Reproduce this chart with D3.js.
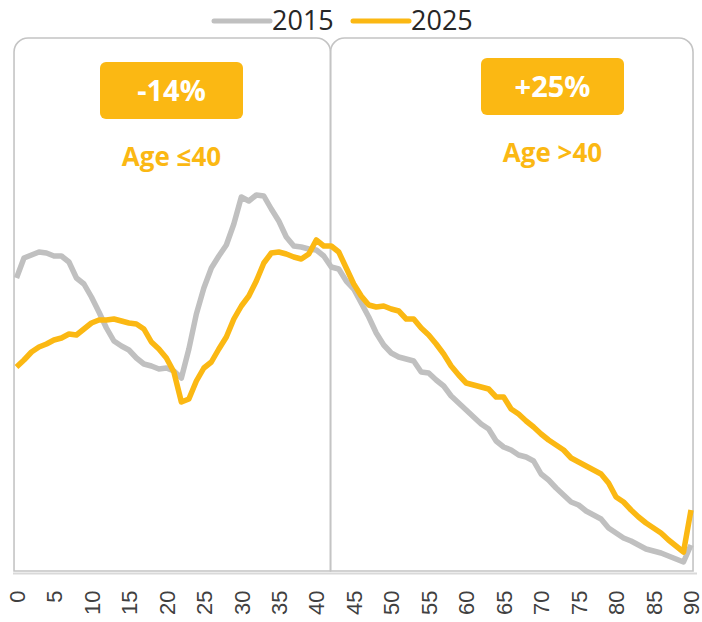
<!DOCTYPE html>
<html>
<head>
<meta charset="utf-8">
<script src="https://cdn.jsdelivr.net/npm/d3@7"></script>
<style>
  body { margin: 0; background: #fff; }
  svg { display: block; font-family: "Open Sans", sans-serif; }
  .ticktext { font-size: 22px; fill: #404040; }
  .legend-text { font-size: 27px; fill: #262626; }
  .badge-text { font-size: 29px; font-weight: 700; fill: #fff; }
  .group-label { font-size: 26px; font-weight: 700; fill: #FBB813; }
</style>
</head>
<body>
<svg width="702" height="622"></svg>
<script>
const svg = d3.select('svg');
const width  = +svg.attr('width');
const height = +svg.attr('height');

// ages 0..90
const ages = d3.range(0, 91);

// population index by single year of age
const values2015 = [
  293, 313, 316, 319, 318, 315, 315, 309, 293, 287,
  274, 259, 243, 230, 225, 221, 213, 207, 205, 202,
  203, 200, 193, 222, 257, 283, 303, 315, 326, 347,
  374, 370, 376, 375, 362, 350, 334, 325, 324, 322,
  321, 315, 304, 302, 290, 282, 268, 254, 238, 226,
  218, 214, 212, 210, 199, 198, 191, 185, 175, 168,
  161, 154, 147, 142, 130, 124, 121, 116, 114, 110,
  97, 91, 83, 76, 69, 66, 60, 56, 52, 43,
  38, 33, 30, 26, 22, 20, 18, 15, 12, 9,
  26
];
const values2025 = [
  204, 211, 219, 224, 227, 231, 233, 237, 236, 242,
  248, 251, 251, 252, 250, 248, 247, 242, 229, 222,
  213, 199, 169, 172, 190, 203, 209, 222, 234, 252,
  265, 275, 290, 308, 318, 319, 317, 314, 312, 317,
  331, 325, 325, 319, 303, 287, 275, 266, 264, 265,
  262, 260, 252, 252, 243, 236, 227, 217, 205, 196,
  188, 186, 184, 182, 174, 174, 162, 157, 150, 144,
  137, 131, 126, 121, 113, 109, 105, 101, 97, 88,
  74, 69, 61, 54, 48, 43, 38, 31, 25, 19,
  61
];

const seriesNames = ['2015', '2025'];
const seriesColors = ['#C0C0C0', '#FBB813'];
const tickAges = d3.range(0, 91, 5);

// age groups: boundaries of the two boxes (in age units) and their labels
const groupEdges = [-0.33, 41.9, 90.27];
const groupChange = ['-14%', '+25%'];
const groupLabels = ['Age \u226440', 'Age >40'];

const plotTop = 38, plotBottom = 571;

const xScale = d3.scaleLinear()
  .domain([0, 90])
  .range([16.5, 691]);

const yScale = d3.scaleLinear()
  .domain([0, 533])
  .range([plotBottom, plotTop]);

const yellow = '#FBB813';

// group boxes (rounded top corners)
const boxPath = (x0, x1, yt, yb, r) =>
  `M${x0},${yb} L${x0},${yt + r} A${r},${r} 0 0 1 ${x0 + r},${yt} ` +
  `L${x1 - r},${yt} A${r},${r} 0 0 1 ${x1},${yt + r} L${x1},${yb} Z`;

const boxes = [0, 1].map(i => ({
  x0: xScale(groupEdges[i]),
  x1: xScale(groupEdges[i + 1]),
  change: groupChange[i],
  label: groupLabels[i]
}));

svg.selectAll('path.box')
  .data(boxes).enter()
  .append('path')
    .attr('class', 'box')
    .attr('d', d => boxPath(d.x0, d.x1, plotTop, plotBottom, 14))
    .attr('fill', 'none')
    .attr('stroke', '#C4C4C4')
    .attr('stroke-width', 1.6);

// x axis
const xAxis = svg.append('g')
  .attr('transform', `translate(0,${plotBottom + 2.5})`)
  .call(d3.axisBottom(xScale).tickValues(tickAges).tickSize(0).tickPadding(0));
xAxis.select('.domain')
  .attr('d', `M13,0H697`)
  .attr('stroke', '#D9D9D9')
  .attr('stroke-width', 2);
xAxis.selectAll('.tick text')
  .attr('class', 'ticktext')
  .attr('transform', 'rotate(-90)')
  .attr('text-anchor', 'end')
  .attr('x', -17)
  .attr('y', 0)
  .attr('dy', '0.35em');

// lines
const line = d3.line()
  .x((d, i) => xScale(ages[i]))
  .y(d => yScale(d));

[values2015, values2025].forEach((vals, i) => {
  svg.append('path')
    .datum(vals)
    .attr('d', line)
    .attr('fill', 'none')
    .attr('stroke', seriesColors[i])
    .attr('stroke-width', 5.5)
    .attr('stroke-linejoin', 'round');
});

// badges and group labels
const badgeTop = [62, 58];
boxes.forEach((b, i) => {
  const cx = i === 0 ? 171.5 : 552.5;
  svg.append('rect')
    .attr('x', cx - 71.5).attr('y', badgeTop[i])
    .attr('width', 143).attr('height', 57)
    .attr('rx', 6)
    .attr('fill', yellow);
  svg.append('text')
    .attr('class', 'badge-text')
    .attr('x', cx).attr('y', badgeTop[i] + 39)
    .attr('text-anchor', 'middle')
    .text(b.change);
  svg.append('text')
    .attr('class', 'group-label')
    .attr('x', cx).attr('y', badgeTop[i] + 104)
    .attr('text-anchor', 'middle')
    .text(b.label);
});

// legend
const legendX = [214, 353];
seriesNames.forEach((name, i) => {
  const g = svg.append('g').attr('transform', `translate(${legendX[i]},21)`);
  g.append('line')
    .attr('x1', 0).attr('x2', 56)
    .attr('stroke', seriesColors[i])
    .attr('stroke-width', 5)
    .attr('stroke-linecap', 'round');
  g.append('text')
    .attr('class', 'legend-text')
    .attr('x', 58).attr('y', 9)
    .text(name);
});
</script>
</body>
</html>
